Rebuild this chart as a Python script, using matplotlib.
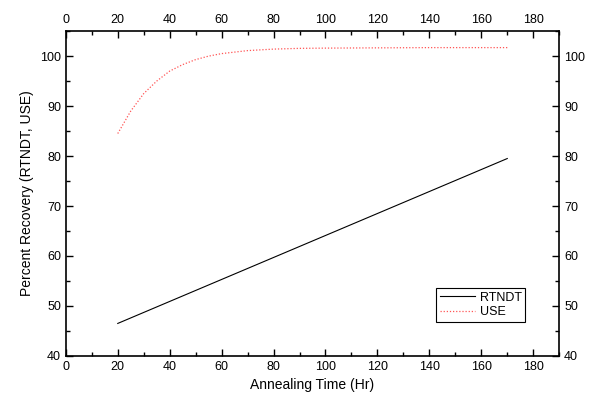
import matplotlib
matplotlib.use("Agg")
import matplotlib.pyplot as plt
from matplotlib.ticker import MultipleLocator

plt.rcParams['font.family'] = ['Liberation Sans', 'DejaVu Sans']

# RTNDT recovery (linear)
rt_time = [20, 170]
rt_pct = [46.5, 79.5]

# USE recovery
use_time = [20, 25, 30, 35, 40, 45, 50, 55, 60, 70, 80, 90, 100, 120, 140, 170]
use_pct = [84.5, 89.0, 92.5, 95.0, 97.0, 98.3, 99.3, 100.0, 100.5, 101.1, 101.4, 101.55,
           101.6, 101.65, 101.7, 101.7]

fig = plt.figure(figsize=(5.93, 3.99), dpi=100)
ax = fig.add_axes([0.111, 0.108, 0.832, 0.814])

ax.plot(rt_time, rt_pct, color="black", lw=0.8, label="RTNDT")
ax.plot(use_time, use_pct, color="#ff5555", lw=0.9, ls=(0, (1, 1.5)), label="USE")

ax.set_xlim(0, 190)
ax.set_ylim(40, 105)
ax.xaxis.set_major_locator(MultipleLocator(20))
ax.xaxis.set_minor_locator(MultipleLocator(10))
ax.yaxis.set_major_locator(MultipleLocator(10))
ax.yaxis.set_minor_locator(MultipleLocator(5))
ax.set_xticks(range(0, 181, 20))
ax.set_yticks(range(40, 101, 10))

ax.tick_params(which="both", direction="in", top=True, right=True,
               labeltop=True, labelright=True, labelsize=9, width=1)
ax.tick_params(which="major", length=5)
ax.tick_params(which="minor", length=3)
for s in ax.spines.values():
    s.set_linewidth(1.2)

ax.set_xlabel("Annealing Time (Hr)", fontsize=10)
ax.set_ylabel("Percent Recovery (RTNDT, USE)", fontsize=10)

leg = ax.legend(loc="lower left", bbox_to_anchor=(0.75, 0.105), fontsize=9,
                fancybox=False, edgecolor="black", framealpha=1, borderaxespad=0,
                handlelength=2.8, handletextpad=0.4, borderpad=0.3, labelspacing=0.2)
leg.get_frame().set_linewidth(0.8)

fig.savefig("out.png", dpi=100)
